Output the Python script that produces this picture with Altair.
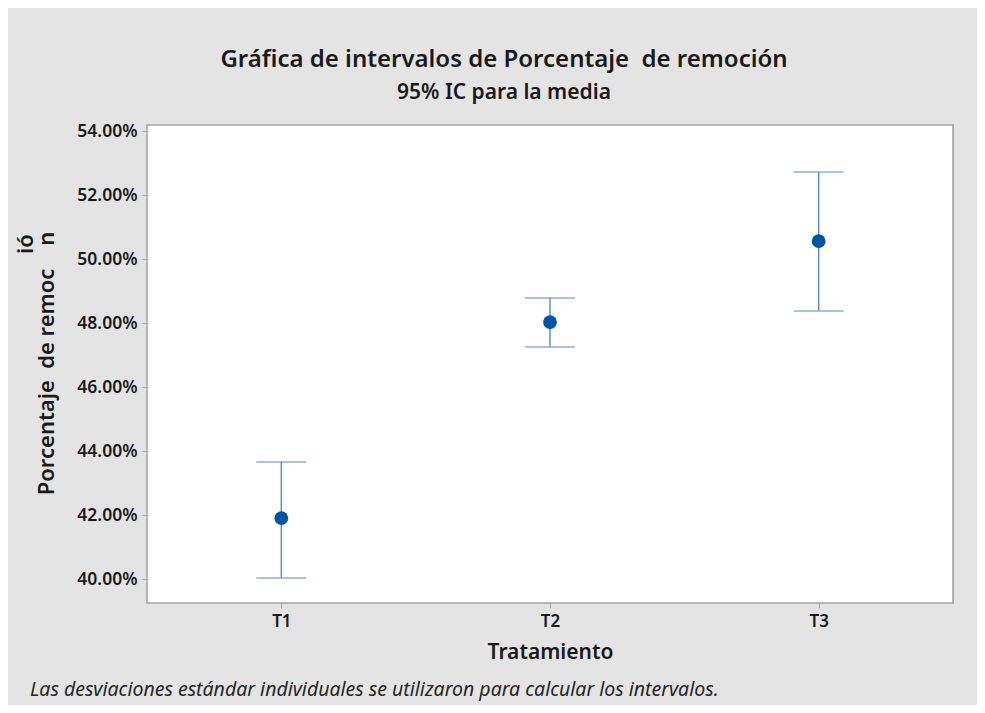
import altair as alt
import pandas as pd

tratamientos = ["T1", "T2", "T3"]
medias = [41.90, 48.03, 50.56]
inferior = [40.03, 47.25, 48.38]
superior = [43.66, 48.78, 52.72]
y_ticks = [40, 42, 44, 46, 48, 50, 52, 54]

df = pd.DataFrame({"Tratamiento": tratamientos, "media": medias,
                   "lo": inferior, "hi": superior})

FONT = "Noto Sans"
BAR = "#5b8fc9"
DOT = "#0054a6"
TXT = "#1a1a1a"

x = alt.X("Tratamiento:N", scale=alt.Scale(type="point", padding=0.5),
          axis=alt.Axis(title="Tratamiento", labelAngle=0, labelFontSize=17,
                        labelFontWeight=600, labelColor=TXT, labelPadding=5,
                        titleFontSize=21, titleFontWeight=600, titleColor=TXT,
                        titlePadding=12, tickSize=5, tickColor="#a0a0a0",
                        domain=False, labelFont=FONT, titleFont=FONT))
yscale = alt.Scale(domain=[39.25, 54.19], nice=False, zero=False)

base = alt.Chart(df)

rules = base.mark_rule(color=BAR, strokeWidth=1.5).encode(
    x=x,
    y=alt.Y("lo:Q", scale=yscale,
            axis=alt.Axis(values=y_ticks, labelExpr="format(datum.value, '.2f') + '%'",
                          title="Porcentaje\u00a0\u00a0de remoc\u00a0\u00a0\u00a0\u00a0n",
                          titleX=-101, titleY=238, titleAngle=270,
                          titleAlign="center", titleBaseline="middle",
                          titleFontSize=22, titleFontWeight=600, titleColor=TXT,
                          labelFontSize=17.5, labelFontWeight=600, labelColor=TXT,
                          labelPadding=5, tickSize=5, tickColor="#a0a0a0",
                          grid=False, domain=False, labelFont=FONT, titleFont=FONT)),
    y2="hi:Q",
)
caps_hi = base.mark_tick(color=BAR, orient="horizontal", size=50, thickness=1.5).encode(
    x=x, y=alt.Y("hi:Q", scale=yscale))
caps_lo = base.mark_tick(color=BAR, orient="horizontal", size=50, thickness=1.5).encode(
    x=x, y=alt.Y("lo:Q", scale=yscale))
points = base.mark_point(filled=True, color=DOT, size=190, opacity=1).encode(
    x=x, y=alt.Y("media:Q", scale=yscale))

io_text = alt.Chart(pd.DataFrame({"t": ["ió"]})).mark_text(
    angle=270, fontSize=22, fontWeight=600, font=FONT, color=TXT,
    align="center", baseline="middle").encode(
    text="t:N", x=alt.value(-121), y=alt.value(119))

foot = alt.Chart(pd.DataFrame({"t": ["Las desviaciones estándar individuales se utilizaron para calcular los intervalos."]})).mark_text(
    fontSize=19.5, fontStyle="italic", font=FONT, color="#262626",
    align="left", baseline="middle").encode(
    text="t:N", x=alt.value(-117), y=alt.value(565))

chart = alt.layer(rules, caps_hi, caps_lo, points, io_text, foot).properties(
    width=806, height=478,
    title=alt.Title("Gráfica de intervalos de Porcentaje\u00a0\u00a0de remoción",
                    subtitle="95% IC para la media",
                    anchor="middle", dx=-46, offset=19,
                    font=FONT, fontSize=24, fontWeight=600, color=TXT,
                    subtitleFont=FONT, subtitleFontSize=21, subtitleFontWeight=600,
                    subtitleColor=TXT, subtitlePadding=10),
    autosize=alt.AutoSizeParams(type="none"),
    padding={"left": 139, "top": 117, "right": 24, "bottom": 102},
    background="#e4e4e4",
).configure_view(fill="white", stroke="#a0a0a0", strokeWidth=1.5)

chart.save("out.html", embed_options={"renderer": "svg", "actions": False})
